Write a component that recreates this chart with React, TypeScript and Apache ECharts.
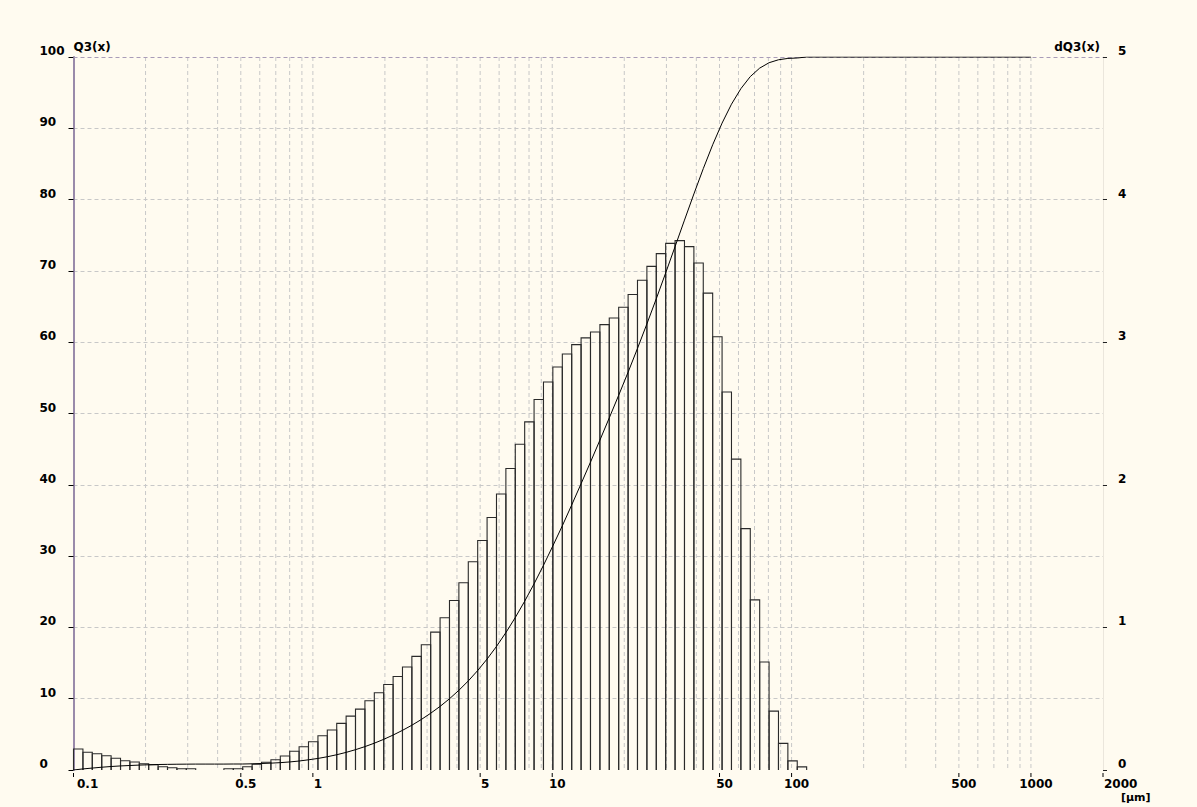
import React, { useEffect, useRef } from "react";
import * as echarts from "echarts";

// Bin edges of the histogram (µm)
const binEdges = [
  0.1, 0.1095, 0.1198, 0.1312, 0.1436, 0.1572, 0.172, 0.1883, 0.2061, 0.2257,
  0.247, 0.2704, 0.296, 0.324, 0.3546, 0.3882, 0.4249, 0.4652, 0.5092, 0.5574,
  0.6101, 0.6679, 0.7311, 0.8003, 0.876, 0.9588, 1.05, 1.149, 1.258, 1.377,
  1.507, 1.65, 1.806, 1.977, 2.164, 2.368, 2.592, 2.838, 3.106, 3.4,
  3.722, 4.074, 4.46, 4.882, 5.344, 5.85, 6.403, 7.009, 7.672, 8.398,
  9.193, 10.06, 11.02, 12.06, 13.2, 14.45, 15.82, 17.31, 18.95, 20.75,
  22.71, 24.86, 27.21, 29.78, 32.6, 35.69, 39.07, 42.76, 46.81, 51.24,
  56.09, 61.4, 67.21, 73.57, 80.53, 88.15, 96.49, 105.6, 115.6,
];

// dQ3 per bin (%), right axis
const dQ3Values = [
  0.147, 0.124, 0.114, 0.1, 0.082, 0.065, 0.056, 0.044, 0.037, 0.023,
  0.016, 0.009, 0.009, 0, 0, 0, 0.009, 0.009, 0.023, 0.04,
  0.054, 0.072, 0.098, 0.131, 0.163, 0.198, 0.24, 0.28, 0.327, 0.378,
  0.427, 0.486, 0.542, 0.6, 0.656, 0.722, 0.797, 0.878, 0.967, 1.068,
  1.189, 1.313, 1.46, 1.609, 1.771, 1.936, 2.114, 2.284, 2.441, 2.598,
  2.721, 2.826, 2.917, 2.983, 3.03, 3.072, 3.123, 3.17, 3.245, 3.334,
  3.434, 3.532, 3.621, 3.693, 3.712, 3.67, 3.555, 3.344, 3.038, 2.651,
  2.18, 1.693, 1.193, 0.757, 0.413, 0.187, 0.064, 0.022,
];

// Cumulative Q3 (%) at each bin edge, left axis
const q3Values = [
  0, 0.15, 0.27, 0.39, 0.49, 0.57, 0.63, 0.69, 0.73, 0.77,
  0.79, 0.81, 0.82, 0.83, 0.83, 0.83, 0.83, 0.84, 0.84, 0.87,
  0.91, 0.96, 1.03, 1.13, 1.26, 1.43, 1.62, 1.86, 2.14, 2.47,
  2.85, 3.28, 3.76, 4.3, 4.9, 5.56, 6.28, 7.08, 7.96, 8.92,
  9.99, 11.18, 12.49, 13.95, 15.56, 17.33, 19.27, 21.38, 23.67, 26.11,
  28.71, 31.43, 34.25, 37.17, 40.15, 43.18, 46.26, 49.38, 52.55, 55.79,
  59.13, 62.56, 66.09, 69.71, 73.41, 77.12, 80.79, 84.34, 87.69, 90.73,
  93.38, 95.56, 97.25, 98.44, 99.2, 99.61, 99.8, 99.86, 100,
];
const q3EndSize = 1000;
const q3EndValue = 100;

// X axis ticks / labels and vertical grid lines
const xTickValues = [0.1, 0.5, 1, 5, 10, 50, 100, 500, 1000, 2000];
const xTickLabels = ["0.1", "0.5", "1", "5", "10", "50", "100", "500", "1000", "2000"];
const xGridValues = [
  0.2, 0.3, 0.4, 0.5, 0.6, 0.7, 0.8, 0.9, 1,
  2, 3, 4, 5, 6, 7, 8, 9, 10,
  20, 30, 40, 50, 60, 70, 80, 90, 100,
  200, 300, 400, 500, 600, 700, 800, 900, 1000,
];

const FONT = "DejaVu Sans";
const BG = "#fffbf0";
const GRID_COLOR = "#c8c8c8";

export default function App() {
  const ref = useRef<HTMLDivElement>(null);

  useEffect(() => {
    if (!ref.current) return;
    const chart = echarts.init(ref.current, null, { renderer: "svg" });

    const barData = dQ3Values.map((h, i) => [binEdges[i], binEdges[i + 1], h]);
    const curveData = binEdges.map((x, i) => [x, q3Values[i]]);
    curveData.push([q3EndSize, q3EndValue]);

    const labelStyle = {
      fontFamily: FONT,
      fontWeight: "bold" as const,
      fontSize: 12,
      color: "#000",
    };

    const option: any = {
      animation: false,
      backgroundColor: BG,
      grid: { left: 73.5, right: 94, top: 57, bottom: 37, containLabel: false },
      xAxis: {
        type: "log",
        logBase: 10,
        min: 0.1,
        max: 2000,
        axisLine: { show: false },
        axisTick: { show: false },
        axisLabel: { show: false },
        splitLine: { show: false },
      },
      yAxis: [
        {
          type: "value",
          min: 0,
          max: 100,
          interval: 10,
          position: "left",
          name: "Q3(x)",
          nameLocation: "end",
          nameGap: 4,
          nameTextStyle: { ...labelStyle, align: "left" },
          axisLine: { show: true, lineStyle: { color: "#9a8aaa", width: 2 } },
          axisTick: { show: true, length: 5, lineStyle: { color: "#000" } },
          axisLabel: {
            ...labelStyle,
            align: "left",
            margin: 34,
            verticalAlign: "bottom",
            lineHeight: 12,
          },
          splitLine: {
            show: true,
            showMinLine: false,
            showMaxLine: false,
            lineStyle: { color: GRID_COLOR, type: [4, 3], width: 1 },
          },
        },
        {
          type: "value",
          min: 0,
          max: 5,
          interval: 1,
          position: "right",
          name: "dQ3(x)",
          nameLocation: "end",
          nameGap: 4,
          nameTextStyle: { ...labelStyle, align: "right", padding: [0, 3, 0, 0] },
          axisLine: { show: true, lineStyle: { color: "#ebe6dc", width: 1 } },
          axisTick: { show: true, length: 4, lineStyle: { color: "#222" } },
          axisLabel: {
            ...labelStyle,
            margin: 15,
            verticalAlign: "bottom",
            lineHeight: 12,
          },
          splitLine: { show: false },
        },
      ],
      graphic: [
        {
          type: "text",
          left: 1121,
          top: 792,
          style: { text: "[µm]", font: `bold 11px "${FONT}"`, fill: "#000" },
        },
      ],
      series: [
        {
          type: "custom",
          name: "vgrid",
          yAxisIndex: 0,
          silent: true,
          z: 1,
          data: xGridValues.map((v) => [v, 0]),
          encode: { x: 0, y: 1 },
          renderItem: (params: any, api: any) => {
            const x = api.value(0);
            const t = api.coord([x, 100]);
            const b = api.coord([x, 0]);
            return {
              type: "line",
              shape: { x1: t[0], y1: t[1], x2: b[0], y2: b[1] },
              style: { stroke: GRID_COLOR, lineWidth: 1, lineDash: [4, 3] },
            };
          },
          markLine: {
            silent: true,
            symbol: ["none", "none"],
            label: { show: false },
            lineStyle: { color: "#a99cb8", type: [4, 3], width: 1 },
            data: [{ yAxis: 100 }],
            animation: false,
          },
        },
        {
          type: "custom",
          name: "xlabels",
          yAxisIndex: 0,
          silent: true,
          z: 2,
          clip: false,
          data: xTickValues.map((v, i) => [v, 0, i]),
          encode: { x: 0, y: 1 },
          renderItem: (params: any, api: any) => {
            const v = api.value(0);
            const i = api.value(2);
            const p = api.coord([v, 0]);
            const n = xTickValues.length;
            let tx = p[0] + 5;
            let align = "center";
            if (i === 0) {
              tx = p[0] + 3.5;
              align = "left";
            } else if (i === n - 1) {
              tx = p[0] + 1;
              align = "left";
            }
            return {
              type: "group",
              children: [
                {
                  type: "line",
                  shape: { x1: p[0], y1: p[1] + 3, x2: p[0], y2: p[1] + 7 },
                  style: { stroke: "#000", lineWidth: 1 },
                },
                {
                  type: "text",
                  x: tx,
                  y: p[1] + 14,
                  style: {
                    text: xTickLabels[i],
                    font: `bold 12px "${FONT}"`,
                    fill: "#000",
                    align,
                    verticalAlign: "middle",
                  },
                },
              ],
            };
          },
        },
        {
          type: "custom",
          name: "dQ3",
          yAxisIndex: 1,
          z: 3,
          data: barData,
          encode: { x: [0, 1], y: 2 },
          renderItem: (params: any, api: any) => {
            const x0 = api.value(0);
            const x1 = api.value(1);
            const h = api.value(2);
            if (!(h > 0)) return null;
            const a = api.coord([x0, 0]);
            const b = api.coord([x0, h]);
            const c = api.coord([x1, h]);
            const d = api.coord([x1, 0]);
            return {
              type: "polyline",
              shape: { points: [a, b, c, d] },
              style: { stroke: "#2a2a2a", fill: "none", lineWidth: 1.1 },
            };
          },
        },
        {
          type: "line",
          name: "Q3",
          yAxisIndex: 0,
          z: 5,
          showSymbol: false,
          symbol: "none",
          data: curveData,
          lineStyle: { color: "#000", width: 1 },
        },
      ],
    };

    chart.setOption(option);
    return () => {
      chart.dispose();
    };
  }, []);

  return (
    <div
      ref={ref}
      style={{
        position: "absolute",
        left: 0,
        top: 0,
        width: 1197,
        height: 807,
        background: BG,
      }}
    />
  );
}
